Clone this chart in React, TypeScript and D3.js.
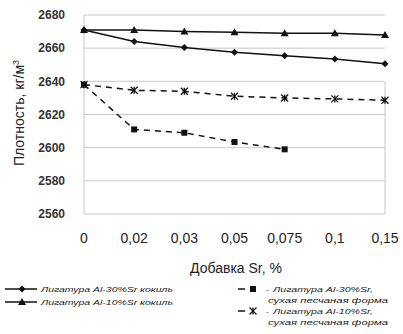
import React from "react";
import * as d3 from "d3";

const categories = ["0", "0,02", "0,03", "0,05", "0,075", "0,1", "0,15"];
const yTicks = [2560, 2580, 2600, 2620, 2640, 2660, 2680];
const al30Chill = [2671, 2664, 2660.4, 2657.6, 2655.4, 2653.4, 2650.6];
const al10Chill = [2671, 2671, 2670, 2669.6, 2669, 2669, 2668];
const al30Sand = [2638, 2611, 2609, 2603.4, 2599];
const al10Sand = [2638, 2634.6, 2634, 2631, 2630, 2629.4, 2628.6];

const W = 403, H = 334;
const left = 84, right = 385, top = 15, bottom = 214;
const font = "Arial, 'Liberation Sans', sans-serif";

function Marker({ type, x, y }: { type: string; x: number; y: number }) {
  if (type === "diamond") {
    const s = 3.5;
    return <path d={`M${x},${y - s}L${x + s},${y}L${x},${y + s}L${x - s},${y}Z`} fill="#111" />;
  }
  if (type === "triangle") {
    const s = 4;
    return <path d={`M${x},${y - s}L${x + s},${y + s * 0.75}L${x - s},${y + s * 0.75}Z`} fill="#111" />;
  }
  if (type === "square") {
    return <rect x={x - 3} y={y - 3} width={6} height={6} fill="#111" />;
  }
  const s = 3.5;
  return (
    <g stroke="#111" strokeWidth={1.3}>
      <line x1={x - s} y1={y - s} x2={x + s} y2={y + s} />
      <line x1={x - s} y1={y + s} x2={x + s} y2={y - s} />
      <line x1={x} y1={y - s} x2={x} y2={y + s} />
    </g>
  );
}

export default function App() {
  const x = d3.scalePoint<string>().domain(categories).range([left, right]);
  const y = d3.scaleLinear().domain([2560, 2680]).range([bottom, top]);
  const line = d3
    .line<number>()
    .x((_, i) => x(categories[i]) as number)
    .y((d) => y(d));

  const series = [
    { data: al30Chill, marker: "diamond", dash: undefined },
    { data: al10Chill, marker: "triangle", dash: undefined },
    { data: al30Sand, marker: "square", dash: "6,5" },
    { data: al10Sand, marker: "star", dash: "6,5" },
  ];

  const la = "spacingAndGlyphs";

  return (
    <svg width={W} height={H} style={{ position: "absolute", left: 0, top: 0, background: "#fff" }}>
      <rect width={W} height={H} fill="#fff" />
      {yTicks.map((t) => (
        <line key={t} x1={left} x2={right} y1={y(t)} y2={y(t)} stroke="#c8c8c8" strokeWidth={1} />
      ))}
      <line x1={left} x2={left} y1={top} y2={bottom} stroke="#c8c8c8" />
      <line x1={right} x2={right} y1={y(2640)} y2={bottom} stroke="#c8c8c8" />
      {yTicks.map((t) => (
        <text key={t} x={65} y={y(t)} dy="0.35em" textAnchor="end" fontFamily={font} fontSize={12} fontWeight="bold" fill="#333">
          {t}
        </text>
      ))}
      {categories.map((c) => (
        <text key={c} x={x(c)} y={238} dy="0.35em" textAnchor="middle" fontFamily={font} fontSize={14} fill="#222">
          {c}
        </text>
      ))}
      <text x={236} y={268} dy="0.35em" textAnchor="middle" fontFamily={font} fontSize={14} fill="#222">
        Добавка Sr, %
      </text>
      <text transform="translate(19,113) rotate(-90)" textAnchor="middle" dy="0.35em" fontFamily={font} fontSize={14} fill="#222">
        Плотность, кг/м<tspan dy="-5" fontSize={9}>3</tspan>
      </text>
      {series.map((s, i) => (
        <g key={i}>
          <path d={line(s.data) || ""} fill="none" stroke="#111" strokeWidth={1.5} strokeDasharray={s.dash} />
          {s.data.map((v, j) => (
            <Marker key={j} type={s.marker} x={x(categories[j]) as number} y={y(v)} />
          ))}
        </g>
      ))}
      {/* legend */}
      <g fontFamily={font} fontSize={8} fontStyle="italic" fill="#222">
        <line x1={5} x2={37} y1={289} y2={289} stroke="#111" strokeWidth={1.5} />
        <Marker type="diamond" x={22} y={289} />
        <text x={41} y={289} dy="0.35em" textLength={132} lengthAdjust={la}>Лигатура Al-30%Sr кокиль</text>
        <line x1={5} x2={37} y1={302} y2={302} stroke="#111" strokeWidth={1.5} />
        <Marker type="triangle" x={22} y={302} />
        <text x={41} y={302} dy="0.35em" textLength={132} lengthAdjust={la}>Лигатура Al-10%Sr кокиль</text>

        <line x1={238} x2={245} y1={289} y2={289} stroke="#111" strokeWidth={1.5} />
        <Marker type="square" x={253} y={289} />
        <text x={266} y={289} dy="0.35em">-</text>
        <text x={273} y={289} dy="0.35em" textLength={100} lengthAdjust={la}>Лигатура Al-30%Sr,</text>
        <text x={268} y={300} dy="0.35em" textLength={120} lengthAdjust={la}>сухая песчаная форма</text>
        <line x1={238} x2={245} y1={311} y2={311} stroke="#111" strokeWidth={1.5} />
        <Marker type="star" x={253} y={311} />
        <text x={266} y={311} dy="0.35em">-</text>
        <text x={273} y={311} dy="0.35em" textLength={100} lengthAdjust={la}>Лигатура Al-10%Sr,</text>
        <text x={268} y={322} dy="0.35em" textLength={120} lengthAdjust={la}>сухая песчаная форма</text>
      </g>
    </svg>
  );
}
